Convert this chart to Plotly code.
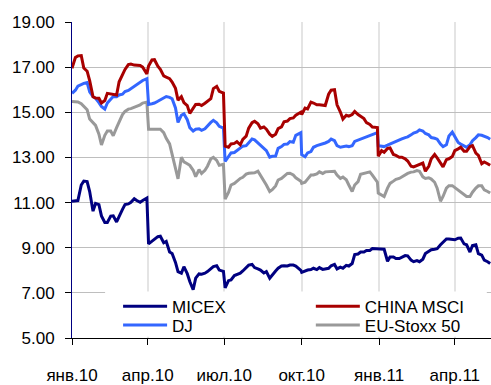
import plotly.graph_objects as go

# Twice-weekly observations (Tuesday / Friday) plus the last day of each quarter
dates = [
    "2010-01-01", "2010-01-05", "2010-01-08", "2010-01-12", "2010-01-15", "2010-01-19",
    "2010-01-22", "2010-01-26", "2010-01-29", "2010-02-02", "2010-02-05", "2010-02-09",
    "2010-02-12", "2010-02-16", "2010-02-19", "2010-02-23", "2010-02-26", "2010-03-02",
    "2010-03-05", "2010-03-09", "2010-03-12", "2010-03-16", "2010-03-19", "2010-03-23",
    "2010-03-26", "2010-03-31", "2010-04-02", "2010-04-06", "2010-04-09", "2010-04-13",
    "2010-04-16", "2010-04-20", "2010-04-23", "2010-04-27", "2010-04-30", "2010-05-04",
    "2010-05-07", "2010-05-11", "2010-05-14", "2010-05-18", "2010-05-21", "2010-05-25",
    "2010-05-28", "2010-06-01", "2010-06-04", "2010-06-08", "2010-06-11", "2010-06-15",
    "2010-06-18", "2010-06-22", "2010-06-25", "2010-06-30", "2010-07-02", "2010-07-06",
    "2010-07-09", "2010-07-13", "2010-07-16", "2010-07-20", "2010-07-23", "2010-07-27",
    "2010-07-30", "2010-08-03", "2010-08-06", "2010-08-10", "2010-08-13", "2010-08-17",
    "2010-08-20", "2010-08-24", "2010-08-27", "2010-08-31", "2010-09-03", "2010-09-07",
    "2010-09-10", "2010-09-14", "2010-09-17", "2010-09-21", "2010-09-24", "2010-09-30",
    "2010-10-01", "2010-10-05", "2010-10-08", "2010-10-12", "2010-10-15", "2010-10-19",
    "2010-10-22", "2010-10-26", "2010-10-29", "2010-11-02", "2010-11-05", "2010-11-09",
    "2010-11-12", "2010-11-16", "2010-11-19", "2010-11-23", "2010-11-26", "2010-11-30",
    "2010-12-03", "2010-12-07", "2010-12-10", "2010-12-14", "2010-12-17", "2010-12-21",
    "2010-12-24", "2010-12-30", "2010-12-31", "2011-01-04", "2011-01-07", "2011-01-11",
    "2011-01-14", "2011-01-18", "2011-01-21", "2011-01-25", "2011-01-28", "2011-02-01",
    "2011-02-04", "2011-02-08", "2011-02-11", "2011-02-15", "2011-02-18", "2011-02-22",
    "2011-02-25", "2011-03-01", "2011-03-04", "2011-03-08", "2011-03-11", "2011-03-15",
    "2011-03-18", "2011-03-22", "2011-03-25", "2011-03-29", "2011-04-01", "2011-04-05",
    "2011-04-08", "2011-04-12", "2011-04-15", "2011-04-19", "2011-04-22", "2011-04-26",
    "2011-04-29", "2011-05-03", "2011-05-06", "2011-05-10", "2011-05-13",
]

micex = [
    11.06, 11.06, 11.09, 11.78, 11.95, 11.93, 11.49, 10.62, 10.96, 10.91, 10.41, 10.12,
    10.12, 10.40, 10.41, 10.14, 10.41, 10.70, 10.91, 10.94, 11.01, 11.17, 11.09, 11.01,
    11.09, 11.20, 9.17, 9.30, 9.36, 9.49, 9.51, 9.22, 9.28, 8.81, 8.74, 8.35,
    7.94, 7.87, 8.16, 7.85, 7.50, 7.14, 7.65, 7.84, 7.83, 7.87, 7.94, 8.06,
    8.16, 8.20, 8.01, 7.95, 7.22, 7.54, 7.57, 7.77, 7.80, 7.87, 7.97, 8.14,
    8.23, 8.26, 8.12, 8.06, 8.01, 7.88, 7.94, 7.65, 7.80, 7.97, 8.09, 8.19,
    8.20, 8.19, 8.23, 8.23, 8.19, 8.00, 7.91, 7.98, 8.01, 8.03, 8.09, 8.03,
    8.12, 8.04, 8.06, 8.09, 8.20, 8.26, 8.06, 8.14, 8.09, 8.22, 8.19, 8.30,
    8.70, 8.72, 8.81, 8.81, 8.88, 8.88, 8.96, 8.96, 8.96, 8.96, 8.93, 8.40,
    8.59, 8.59, 8.52, 8.52, 8.59, 8.65, 8.64, 8.45, 8.38, 8.43, 8.38, 8.49,
    8.74, 8.84, 8.91, 8.93, 8.96, 9.13, 9.25, 9.39, 9.39, 9.35, 9.35, 9.42,
    9.43, 9.17, 9.13, 8.81, 9.10, 9.13, 8.74, 8.67, 8.45, 8.38, 8.30,
]

china_msci = [
    16.95, 17.43, 17.50, 17.51, 16.96, 16.82, 16.40, 15.69, 15.63, 15.62, 15.41, 15.52,
    15.84, 15.81, 15.77, 15.77, 16.35, 16.70, 16.90, 17.11, 17.14, 17.09, 17.07, 17.07,
    17.00, 16.70, 17.05, 17.32, 17.33, 17.04, 16.90, 16.61, 16.56, 16.49, 16.34, 16.06,
    15.54, 15.69, 15.43, 15.30, 14.95, 15.20, 15.35, 15.36, 15.30, 15.40, 15.50, 15.60,
    16.05, 16.15, 15.93, 15.85, 13.50, 13.45, 13.60, 13.62, 13.70, 13.56, 13.80, 13.94,
    14.30, 14.54, 14.60, 14.49, 14.30, 14.35, 14.25, 14.03, 13.93, 14.03, 14.28, 14.35,
    14.58, 14.61, 14.72, 14.75, 14.87, 15.00, 14.90, 15.19, 15.15, 15.45, 15.41, 15.33,
    15.33, 15.30, 15.30, 15.80, 15.98, 16.00, 15.33, 15.01, 14.70, 14.87, 14.83, 14.90,
    15.04, 14.90, 14.83, 14.72, 14.54, 14.46, 14.35, 14.32, 13.05, 13.30, 13.23, 13.40,
    13.42, 13.13, 13.09, 13.01, 13.01, 12.94, 12.84, 12.61, 12.58, 12.65, 12.69, 12.75,
    12.39, 12.61, 12.94, 13.13, 12.98, 12.75, 12.58, 12.90, 12.94, 13.04, 13.30, 13.38,
    13.45, 13.27, 13.27, 13.48, 13.52, 13.19, 13.09, 12.72, 12.80, 12.72, 12.65,
]

dj = [
    15.84, 15.98, 16.16, 16.24, 16.28, 16.32, 15.91, 15.69, 15.62, 15.43, 15.26, 15.14,
    15.41, 15.58, 15.70, 15.69, 15.77, 15.80, 15.92, 15.97, 16.05, 16.17, 16.23, 16.36,
    16.41, 16.49, 15.35, 15.38, 15.41, 15.49, 15.55, 15.64, 15.70, 15.66, 15.60, 15.19,
    14.55, 14.87, 14.93, 14.67, 14.32, 14.17, 14.25, 14.27, 14.20, 14.27, 14.40, 14.55,
    14.64, 14.53, 14.38, 14.30, 12.82, 13.01, 13.20, 13.22, 13.30, 13.39, 13.50, 13.52,
    13.65, 13.82, 13.78, 13.64, 13.55, 13.42, 13.30, 13.01, 13.05, 13.06, 13.40, 13.48,
    13.58, 13.59, 13.70, 13.67, 13.98, 14.10, 13.12, 13.03, 13.20, 13.26, 13.45, 13.52,
    13.55, 13.61, 13.64, 13.71, 13.81, 13.74, 13.52, 13.45, 13.48, 13.50, 13.48, 13.52,
    13.71, 13.77, 13.81, 13.85, 13.91, 13.96, 14.00, 14.10, 13.52, 13.48, 13.48, 13.54,
    13.59, 13.68, 13.74, 13.80, 13.82, 13.88, 13.91, 14.00, 14.08, 14.13, 14.22, 14.17,
    14.06, 14.00, 13.88, 13.85, 13.81, 13.59, 13.48, 13.56, 13.95, 14.12, 13.91, 13.66,
    13.59, 13.50, 13.45, 13.56, 13.74, 13.88, 14.00, 13.98, 13.94, 13.88, 13.81,
]

eu_stoxx = [
    15.48, 15.48, 15.46, 15.38, 15.26, 15.11, 14.70, 14.53, 14.42, 14.03, 13.55, 13.98,
    14.17, 14.17, 13.96, 14.32, 14.60, 14.90, 15.04, 15.14, 15.16, 15.22, 15.26, 15.33,
    15.41, 15.45, 14.25, 14.25, 14.25, 14.25, 14.25, 14.10, 13.85, 13.60, 13.15, 12.58,
    12.05, 13.01, 12.80, 12.72, 12.65, 12.43, 12.15, 12.46, 12.29, 12.43, 12.61, 12.94,
    13.00, 12.87, 12.65, 12.70, 11.15, 11.45, 11.78, 11.85, 11.95, 12.07, 12.12, 12.26,
    12.30, 12.33, 12.32, 12.39, 12.22, 11.95, 11.78, 11.49, 11.57, 11.74, 12.00, 12.07,
    12.17, 12.29, 12.30, 12.22, 12.10, 11.95, 11.85, 11.90, 12.04, 12.22, 12.22, 12.27,
    12.36, 12.29, 12.36, 12.37, 12.39, 12.39, 12.22, 12.07, 12.13, 12.01, 11.78, 11.49,
    11.78, 11.93, 12.25, 12.29, 12.29, 12.36, 12.22, 11.90, 11.42, 11.35, 11.27, 11.64,
    11.85, 11.95, 12.03, 12.07, 12.14, 12.22, 12.29, 12.35, 12.36, 12.42, 12.39, 12.14,
    12.07, 12.10, 12.04, 11.90, 11.64, 11.06, 11.27, 11.64, 11.75, 11.75, 11.67, 11.56,
    11.46, 11.39, 11.27, 11.27, 11.46, 11.64, 11.74, 11.74, 11.56, 11.49, 11.42,
]

x_tick_dates = ["2010-01-01", "2010-04-01", "2010-07-01",
                "2010-10-01", "2011-01-01", "2011-04-01"]
x_tick_labels = ["янв.10", "апр.10", "июл.10", "окт.10", "янв.11", "апр.11"]
y_ticks = [5, 7, 9, 11, 13, 15, 17, 19]

FONT = "Liberation Sans, Arial, sans-serif"

series = [
    # name, values, colour, legend slot
    ("EU-Stoxx 50", eu_stoxx, "#999999", "legend4"),
    ("DJ", dj, "#3366FF", "legend3"),
    ("CHINA MSCI", china_msci, "#A80000", "legend2"),
    ("MICEX", micex, "#000080", "legend"),
]

fig = go.Figure()
for name, vals, colour, leg in series:
    fig.add_trace(go.Scatter(
        x=dates, y=vals, name=name, mode="lines",
        line=dict(color=colour, width=3),
        legend=leg, showlegend=True,
    ))

# white panel behind the legend, covering grid and lines
fig.add_shape(type="rect", xref="paper", yref="paper",
              x0=0.079, x1=0.990, y0=0.004, y1=0.147,
              fillcolor="white", line=dict(width=0), layer="above")

def legend_at(x, y):
    return dict(x=x, y=y, xanchor="left", yanchor="middle",
                bgcolor="rgba(0,0,0,0)", borderwidth=0,
                itemwidth=44, tracegroupgap=0,
                font=dict(family=FONT, size=17, color="#000000"))

fig.update_layout(
    width=491, height=385,
    margin=dict(l=72, r=0, t=22, b=40),
    paper_bgcolor="white", plot_bgcolor="white",
    showlegend=True,
    legend=legend_at(0.110, 0.099),
    legend3=legend_at(0.110, 0.040),
    legend2=legend_at(0.570, 0.099),
    legend4=legend_at(0.570, 0.040),
    font=dict(family=FONT, size=17, color="#000000"),
)

fig.update_xaxes(
    type="date", range=["2010-01-01", "2011-05-14"],
    tickmode="array", tickvals=x_tick_dates, ticktext=x_tick_labels,
    ticks="outside", ticklen=6, tickcolor="#000000",
    ticklabelstandoff=16,
    showline=True, linecolor="#000000", linewidth=1,
    showgrid=True, gridcolor="#E4E4E4", gridwidth=2,
    zeroline=False,
    tickfont=dict(family=FONT, size=17, color="#000000"),
)
fig.update_yaxes(
    range=[5, 19], tickmode="array", tickvals=y_ticks,
    tickformat=".2f",
    ticks="outside", ticklen=6, tickcolor="#000000",
    ticklabelstandoff=7,
    showline=True, linecolor="#000080", linewidth=1,
    showgrid=True, gridcolor="#BEBEBE", gridwidth=1,
    zeroline=False,
    tickfont=dict(family=FONT, size=17, color="#000000"),
)

fig.write_html("out.html")
